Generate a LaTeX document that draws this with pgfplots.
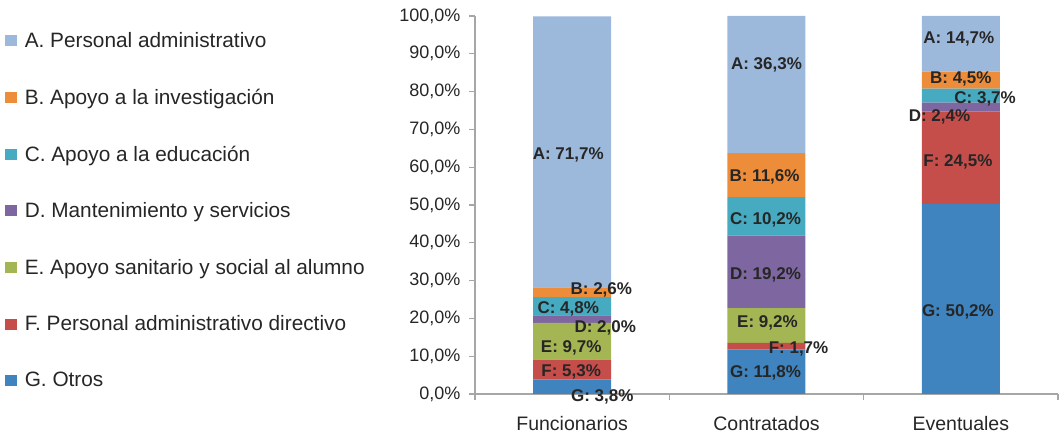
\documentclass[border=0pt]{standalone}
\usepackage{fontspec}
\setmainfont{Liberation Sans}
\usepackage{pgfplots}
\pgfplotsset{compat=1.18}
\definecolor{cA}{HTML}{9CB9DC}
\definecolor{cB}{HTML}{ED8D3A}
\definecolor{cC}{HTML}{46AAC0}
\definecolor{cD}{HTML}{7E67A1}
\definecolor{cE}{HTML}{A4B553}
\definecolor{cF}{HTML}{C54D4A}
\definecolor{cG}{HTML}{3F84BE}
\definecolor{txt}{HTML}{262626}
\definecolor{axisgray}{HTML}{A6A6A6}
\pgfplotsset{
  sqlegend/.style={legend image code/.code={\fill[##1] (0bp,-5.5bp) rectangle (11.5bp,5.5bp);}},
}
\begin{document}
\begin{tikzpicture}
\begin{axis}[
  at={(0,0)}, anchor=south west,
  width=583bp, height=378bp, scale only axis,
  ybar stacked, bar width=78bp,
  xmin=-0.5, xmax=2.5, ymin=0, ymax=100,
  axis x line*=bottom, axis y line*=left,
  axis line style={draw=axisgray, line width=1.2bp},
  tick align=outside,
  major tick length=6bp,
  tick style={draw=axisgray, line width=1.2bp},
  xtick={-0.5,0.5,1.5,2.5}, xticklabels={},
  extra x ticks={0,1,2},
  extra x tick labels={Funcionarios,Contratados,Eventuales},
  extra x tick style={major tick length=0pt},
  ytick={0,10,...,100},
  yticklabel={\pgfmathprintnumber[fixed,fixed zerofill,precision=1,use comma,assume math mode=true]{\tick}\%},
  yticklabel style={font=\fontsize{18bp}{21bp}\selectfont, text=txt, xshift=-5bp},
  xticklabel style={font=\fontsize{19.5bp}{23bp}\selectfont, text=txt, yshift=-19bp},
  legend style={at={(axis description cs:-0.806,0.962)}, anchor=north west,
    draw=none, fill=none, font=\fontsize{20.8bp}{24bp}\selectfont, text=txt,
    row sep=36bp, inner sep=0pt,
    /tikz/every odd column/.append style={column sep=6bp}},
  legend cell align=left,
  reverse legend,
]
\addplot[fill=cG, draw=none, sqlegend] coordinates {(0,3.8) (1,11.8) (2,50.2)};
\addplot[fill=cF, draw=none, sqlegend] coordinates {(0,5.3) (1,1.7) (2,24.5)};
\addplot[fill=cE, draw=none, sqlegend] coordinates {(0,9.7) (1,9.2) (2,0)};
\addplot[fill=cD, draw=none, sqlegend] coordinates {(0,2.0) (1,19.2) (2,2.4)};
\addplot[fill=cC, draw=none, sqlegend] coordinates {(0,4.8) (1,10.2) (2,3.7)};
\addplot[fill=cB, draw=none, sqlegend] coordinates {(0,2.6) (1,11.6) (2,4.5)};
\addplot[fill=cA, draw=none, sqlegend] coordinates {(0,71.7) (1,36.3) (2,14.7)};
\legend{G. Otros, F. Personal administrativo directivo, E. Apoyo sanitario y social al alumno, D. Mantenimiento y servicios, C. Apoyo a la educación, B. Apoyo a la investigación, A. Personal administrativo}
\end{axis}
\begin{axis}[
  at={(0,0)}, anchor=south west,
  width=583bp, height=378bp, scale only axis,
  xmin=-0.5, xmax=2.5, ymin=0, ymax=100,
  hide axis, clip=false,
]
\addplot[only marks, mark=none, nodes near coords, point meta=explicit symbolic,
  nodes near coords style={font=\bfseries\fontsize{17bp}{20bp}\selectfont, text=txt,
    anchor=center, inner sep=0pt, text height=12bp, text depth=0pt}]
  coordinates {
  (-0.02,63.5) [A: 71,7\%]
  (0.15,28.0) [B: 2,6\%]
  (-0.02,22.9) [C: 4,8\%]
  (0.17,17.8) [D: 2,0\%]
  (-0.005,12.5) [E: 9,7\%]
  (-0.005,6.1) [F: 5,3\%]
  (0.155,-0.3) [G: 3,8\%]
  (1.0,87.4) [A: 36,3\%]
  (0.99,57.9) [B: 11,6\%]
  (0.995,46.5) [C: 10,2\%]
  (0.995,31.9) [D: 19,2\%]
  (1.005,19.3) [E: 9,2\%]
  (1.165,12.3) [F: 1,7\%]
  (0.995,5.9) [G: 11,8\%]
  (1.99,94.3) [A: 14,7\%]
  (2.0,83.7) [B: 4,5\%]
  (2.125,78.5) [C: 3,7\%]
  (1.89,73.8) [D: 2,4\%]
  (1.985,61.9) [F: 24,5\%]
  (1.985,22.2) [G: 50,2\%]
  };
\end{axis}
\pgfresetboundingbox
\path[use as bounding box] (-475bp,-39bp) rectangle (584bp,394bp);
\end{tikzpicture}
\end{document}
